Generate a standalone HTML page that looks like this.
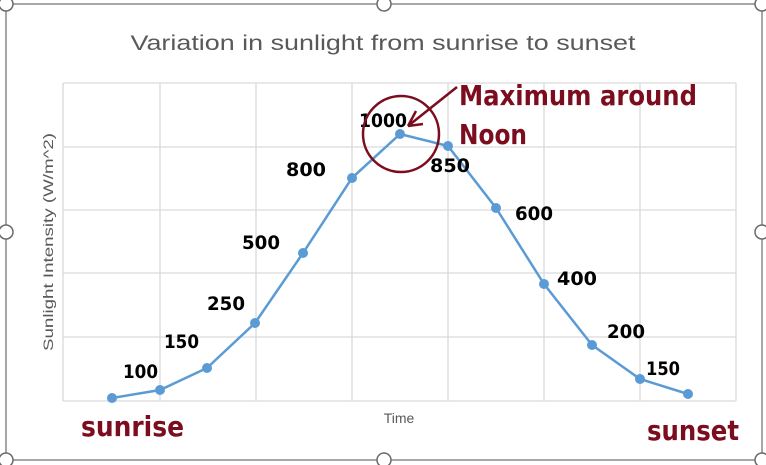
<!DOCTYPE html>
<html><head><style>
body{margin:0;background:#fff;}
svg{display:block;}
</style></head><body>
<svg width="766" height="465" xmlns="http://www.w3.org/2000/svg">
<rect x="0" y="0" width="766" height="465" fill="#fff"/>
<rect x="6" y="4" width="756" height="456" fill="#fff" stroke="#8a8a8a" stroke-width="1.5"/>
<g stroke="#d9d9d9" stroke-width="1.3" fill="none">
<path d="M63 83H736M63 147H736M63 210H736M63 273H736M63 337H736M63 401H736"/>
<path d="M63 83V401M160 83V401M256 83V401M352 83V401M448 83V401M544 83V401M640 83V401M736 83V401"/>
</g>
<text x="383" y="50" text-anchor="middle" font-family="Liberation Sans, sans-serif" font-size="21" fill="#595959" textLength="505" lengthAdjust="spacingAndGlyphs">Variation in sunlight from sunrise to sunset</text>
<text x="399" y="423" text-anchor="middle" font-family="Liberation Sans, sans-serif" font-size="14" fill="#595959">Time</text>
<text transform="translate(53,242) rotate(-90)" text-anchor="middle" font-family="Liberation Sans, sans-serif" font-size="14" fill="#595959" textLength="218" lengthAdjust="spacingAndGlyphs">Sunlight Intensity (W/m^2)</text>
<polyline fill="none" stroke="#5b9bd5" stroke-width="2.5" points="112,398 160,390 207,368 255,323 303,253 352,178 400,134 448,146 496,208 544,284 592,345 640,379 688,394"/>
<g fill="#5b9bd5">
<circle cx="112" cy="398" r="5"/><circle cx="160" cy="390" r="5"/><circle cx="207" cy="368" r="5"/><circle cx="255" cy="323" r="5"/><circle cx="303" cy="253" r="5"/><circle cx="352" cy="178" r="5"/><circle cx="400" cy="134" r="5"/><circle cx="448" cy="146" r="5"/><circle cx="496" cy="208" r="5"/><circle cx="544" cy="284" r="5"/><circle cx="592" cy="345" r="5"/><circle cx="640" cy="379" r="5"/><circle cx="688" cy="394" r="5"/>
</g>
<g font-family="DejaVu Sans, sans-serif" font-weight="bold" font-size="19" fill="#000" lengthAdjust="spacingAndGlyphs">
<text x="123" y="378" textLength="35" lengthAdjust="spacingAndGlyphs">100</text>
<text x="164" y="348" textLength="35" lengthAdjust="spacingAndGlyphs">150</text>
<text x="207" y="310" textLength="38" lengthAdjust="spacingAndGlyphs">250</text>
<text x="242" y="249" textLength="38" lengthAdjust="spacingAndGlyphs">500</text>
<text x="286" y="176" textLength="40" lengthAdjust="spacingAndGlyphs">800</text>
<text x="359" y="127" textLength="48" lengthAdjust="spacingAndGlyphs">1000</text>
<text x="430" y="172" textLength="40" lengthAdjust="spacingAndGlyphs">850</text>
<text x="515" y="220" textLength="38" lengthAdjust="spacingAndGlyphs">600</text>
<text x="557" y="285" textLength="40" lengthAdjust="spacingAndGlyphs">400</text>
<text x="607" y="338" textLength="38" lengthAdjust="spacingAndGlyphs">200</text>
<text x="646" y="375" textLength="34" lengthAdjust="spacingAndGlyphs">150</text>
</g>
<circle cx="401" cy="134" r="38" fill="none" stroke="#7b0d1e" stroke-width="2.5"/>
<path d="M457 87L408 126M408 126L416 111M408 126L423 124" stroke="#7b0d1e" stroke-width="2.5" fill="none"/>
<g font-family="DejaVu Sans, sans-serif" font-weight="bold" font-size="28" fill="#7b0d1e">
<text x="459" y="105" textLength="238" lengthAdjust="spacingAndGlyphs">Maximum around</text>
<text x="459" y="144" textLength="68" lengthAdjust="spacingAndGlyphs">Noon</text>
<text x="81" y="436" textLength="103" lengthAdjust="spacingAndGlyphs">sunrise</text>
<text x="647" y="440" textLength="92" lengthAdjust="spacingAndGlyphs">sunset</text>
</g>
<g fill="#fff" stroke="#6a6a6a" stroke-width="1.5">
<circle cx="6" cy="4" r="7"/><circle cx="384" cy="4" r="7"/><circle cx="762" cy="4" r="7"/>
<circle cx="6" cy="232" r="7"/><circle cx="762" cy="232" r="7"/>
<circle cx="6" cy="460" r="7"/><circle cx="384" cy="460" r="7"/><circle cx="762" cy="460" r="7"/>
</g>
</svg>
</body></html>
